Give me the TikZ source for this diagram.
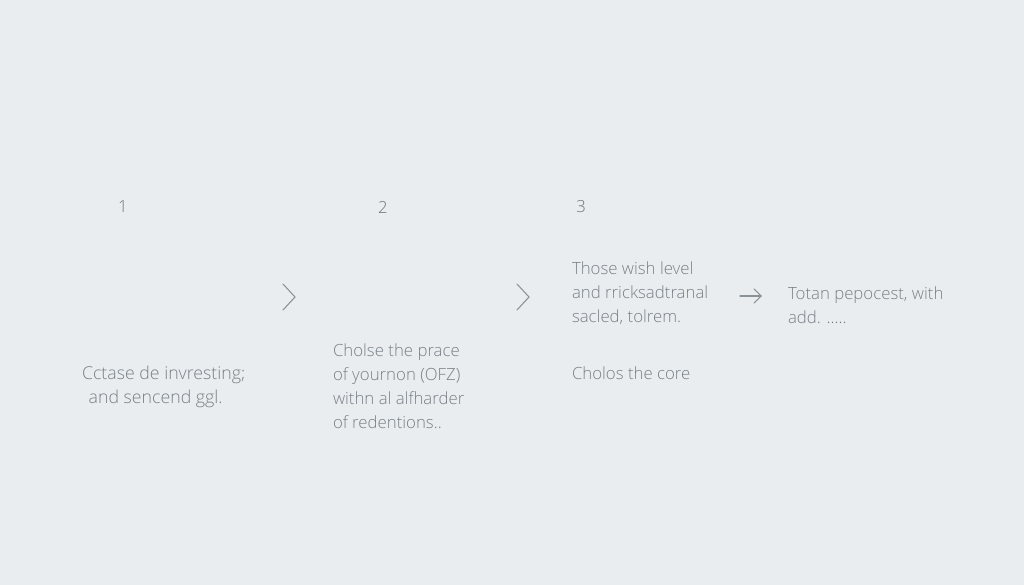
\documentclass[tikz,border=0pt]{standalone}
\usepackage{fontspec}
\setmainfont{Open Sans}[UprightFont=*-Light]
\definecolor{bg}{HTML}{E9EDF0}
\definecolor{txt}{HTML}{788087}
\definecolor{num}{HTML}{6C747C}
\definecolor{chev}{HTML}{8A9299}
\begin{document}
\begin{tikzpicture}[x=0.75pt,y=-0.75pt,
  every node/.style={inner sep=0pt,outer sep=0pt},
  stepnum/.style={text=num,font=\fontsize{12.5pt}{15pt}\selectfont},
  body/.style={text=txt,align=left,anchor=north west,font=\fontsize{12.6pt}{18pt}\selectfont},
  chevron/.style={draw=chev,line width=0.8pt,line cap=round,line join=miter},
  arr/.style={draw=chev,line width=0.8pt,line cap=round}]
\fill[bg] (0,0) rectangle (1024,585);
\useasboundingbox (0,0) rectangle (1024,585);
% numbers
\node[stepnum] (n1) at (123,207) {1};
\node[stepnum] (n2) at (383,207) {2};
\node[stepnum] (n3) at (581,207) {3};
% texts
\node[body,font=\fontsize{13.3pt}{18pt}\selectfont] (t1) at (82,366) {Cctase de invresting;\\\hspace*{5pt}and sencend ggl.};
\node[body] (t2) at (333,344) {Cholse the prace\\of yournon (OFZ)\\withn al alfharder\\of redentions..};
\node[body] (t3) at (572,262) {Those wish level\\and rricksadtranal\\sacled, tolrem.};
\node[body] (t3b) at (572,367) {Cholos the core};
\node[body] (t4) at (788,287) {Totan pepocest, with\\add. .....};
% chevrons
\coordinate (c1) at (289,297);
\coordinate (c2) at (523,297);
\draw[chevron] ([shift={(-6,-13)}]c1) -- ([shift={(6,0)}]c1) -- ([shift={(-6,13)}]c1);
\draw[chevron] ([shift={(-6,-13)}]c2) -- ([shift={(6,0)}]c2) -- ([shift={(-6,13)}]c2);
% arrow
\coordinate (a0) at (740,296);
\coordinate (a1) at (761,296);
\draw[arr] (a0) -- (a1);
\draw[arr] ([shift={(-7,-7)}]a1) -- (a1) -- ([shift={(-7,7)}]a1);
\end{tikzpicture}
\end{document}
